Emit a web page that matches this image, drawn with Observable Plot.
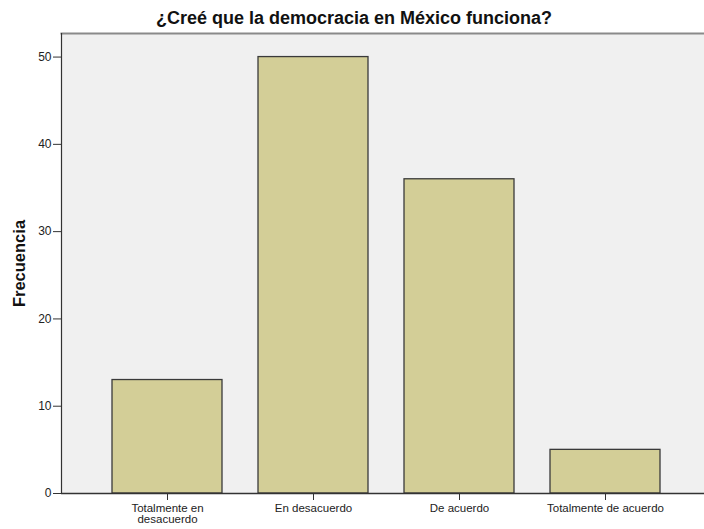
<!DOCTYPE html>
<html>
<head>
<meta charset="utf-8">
<script src="https://cdn.jsdelivr.net/npm/d3@7"></script>
<script src="https://cdn.jsdelivr.net/npm/@observablehq/plot@0.6"></script>
<style>
  html, body { margin: 0; padding: 0; background: #ffffff; }
  #chart { width: 704px; height: 529px; overflow: hidden; }
  #title {
    width: 704px; height: 30px; box-sizing: border-box; padding-top: 8px;
    text-align: center; padding-left: 4px;
    font-family: "Liberation Sans", Arial, sans-serif; font-weight: bold;
    font-size: 18px; line-height: 20px; color: #111;
  }
  #chart svg { display: block; }
</style>
</head>
<body>
<div id="chart">
  <div id="title">¿Creé que la democracia en México funciona?</div>
</div>
<script>
const categories = ["Totalmente en desacuerdo", "En desacuerdo", "De acuerdo", "Totalmente de acuerdo"];
const tickLabels = ["Totalmente en\ndesacuerdo", "En desacuerdo", "De acuerdo", "Totalmente de acuerdo"];
const frecuencias = [13, 50, 36, 5];
const yTicks = [0, 10, 20, 30, 40, 50];
const yLabel = "Frecuencia";

const data = categories.map((c, i) => ({categoria: c, frecuencia: frecuencias[i]}));

const chart = Plot.plot({
  width: 704,
  height: 499,
  marginLeft: 61,
  marginRight: 0,
  marginTop: 3,
  marginBottom: 36,
  style: {fontFamily: "'Liberation Sans', Arial, sans-serif", fontSize: "12px", background: "#ffffff", color: "#222"},
  x: {domain: categories, range: [94, 678], paddingInner: 0.25, paddingOuter: 0.125, label: null},
  y: {domain: [0, 52.7], label: null},
  marks: [
    Plot.frame({fill: "#f0f0f0", stroke: null}),
    Plot.frame({anchor: "top", stroke: "#8a8a8a", strokeWidth: 2}),
    Plot.frame({anchor: "left", stroke: "#333333", strokeWidth: 1.2}),
    Plot.barY(data, {x: "categoria", y: "frecuencia", fill: "#d3ce97", stroke: "#3a3a3a", strokeWidth: 1.3}),
    Plot.axisY({ticks: yTicks, tickSize: 8, tickPadding: 2, stroke: "#333", fontSize: 12, label: null}),
    Plot.axisX({tickSize: 7, tickPadding: 3, stroke: "#333", fontSize: 11.5, lineHeight: 1, label: null,
      tickFormat: d => tickLabels[categories.indexOf(d)]}),
    Plot.ruleY([0], {stroke: "#333333", strokeWidth: 1.3}),
    Plot.text([yLabel], {frameAnchor: "left", textAnchor: "middle", rotate: -90, dx: -42, fontWeight: "bold", fontSize: 16.5, fill: "#111"})
  ]
});
document.getElementById("chart").appendChild(chart);
</script>
</body>
</html>
